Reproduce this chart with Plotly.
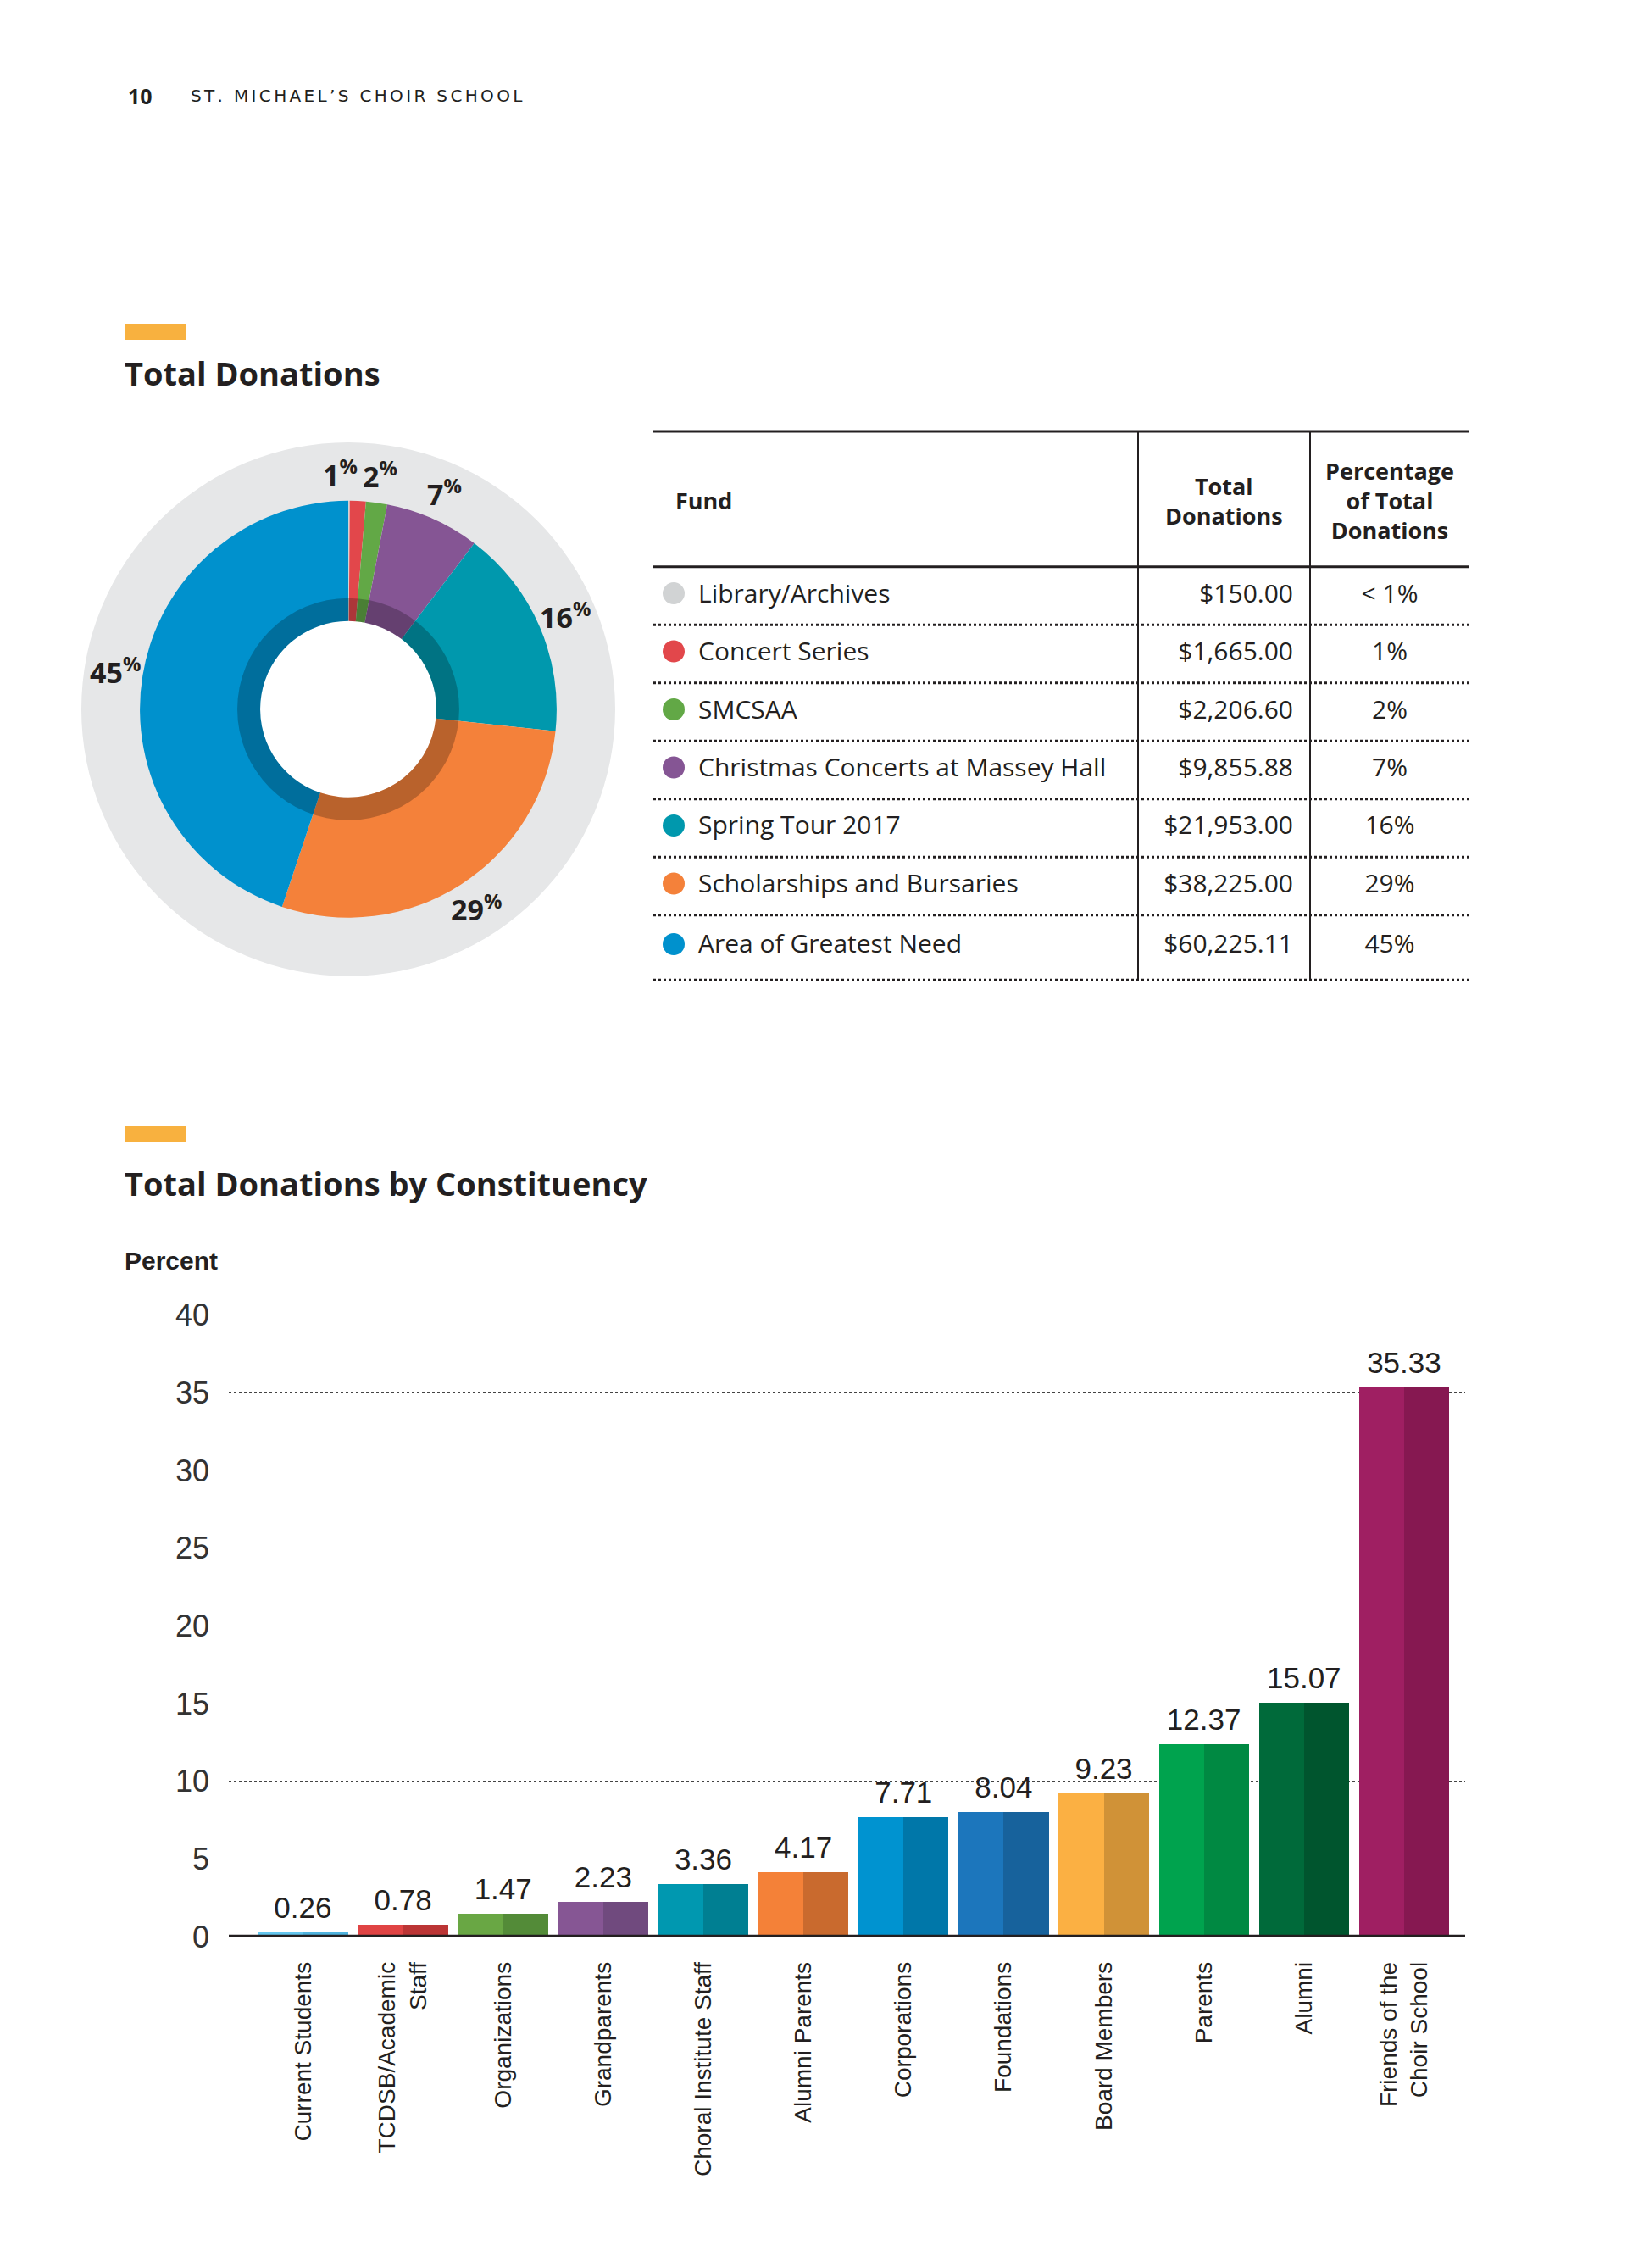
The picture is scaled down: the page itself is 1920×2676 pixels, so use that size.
import math
import plotly.graph_objects as go

# page is photographed at 1920x2676; the html body adds an 8px margin and the
# capture compresses the page slightly in height, so vertical positions are
# pre-scaled by SY.
PAGE_W, PAGE_H = 1920, 2676
OFF = 8
SY = 1 / 0.9917
W, H = PAGE_W - 2 * OFF, PAGE_H - 2 * OFF

# ---------------- data ----------------
funds = ["Library/Archives", "Concert Series", "SMCSAA",
         "Christmas Concerts at Massey Hall", "Spring Tour 2017",
         "Scholarships and Bursaries", "Area of Greatest Need"]
fund_amounts = [150.00, 1665.00, 2206.60, 9855.88, 21953.00, 38225.00, 60225.11]
fund_amount_labels = ["$150.00", "$1,665.00", "$2,206.60", "$9,855.88",
                      "$21,953.00", "$38,225.00", "$60,225.11"]
fund_pct_labels = ["< 1%", "1%", "2%", "7%", "16%", "29%", "45%"]
fund_colors = ["#d1d3d4", "#e2474b", "#62a846", "#855594",
               "#0098ad", "#f4813a", "#0091cd"]

constituencies = ["Current Students", "TCDSB/Academic Staff", "Organizations",
                  "Grandparents", "Choral Institute Staff", "Alumni Parents",
                  "Corporations", "Foundations", "Board Members", "Parents",
                  "Alumni", "Friends of the Choir School"]
constituency_ticks = ["Current Students", "TCDSB/Academic<br>Staff", "Organizations",
                      "Grandparents", "Choral Institute Staff", "Alumni Parents",
                      "Corporations", "Foundations", "Board Members", "Parents",
                      "Alumni", "Friends of the<br>Choir School"]
constituency_pct = [0.26, 0.78, 1.47, 2.23, 3.36, 4.17, 7.71, 8.04, 9.23, 12.37, 15.07, 35.33]
bar_light = ["#63c6ee", "#e04444", "#69a744", "#865694", "#0098b0", "#f48138",
             "#0093d0", "#1c76bc", "#fbb043", "#00a34e", "#006a3a", "#9f1f62"]
bar_dark = ["#4fb3de", "#bb3535", "#538b38", "#704a7e", "#007f92", "#c96a2e",
            "#0077a9", "#17629c", "#d09237", "#008942", "#00552e", "#861851"]
y_ticks = [0, 5, 10, 15, 20, 25, 30, 35, 40]

# ---------------- helpers (page pixel -> paper fraction) ----------------
def px(x):
    return (x - OFF) / W

def py(y):
    return 1 - (y * SY - OFF) / H

def dom(cx, cy, r):
    return dict(x=[px(cx - r), px(cx + r)], y=[py(cy + r), py(cy - r)])

INK = "#231f20"
SANS = "Open Sans"
ARIAL = "Liberation Sans"

fig = go.Figure()

# ---------------- donut ----------------
CX, CY = 411, 835
R_BG, R_OUT, R_DARK, R_HOLE = 315, 246, 131, 104

fig.add_trace(go.Pie(values=[1], labels=["bg"], marker=dict(colors=["#e6e7e8"]),
                     hole=(R_OUT - 4) / R_BG,
                     domain=dom(CX, CY, R_BG), textinfo="none", hoverinfo="skip",
                     sort=False, showlegend=False))
fig.add_trace(go.Pie(values=fund_amounts, labels=funds, marker=dict(colors=fund_colors),
                     hole=R_HOLE / R_OUT, domain=dom(CX, CY, R_OUT), sort=False,
                     direction="clockwise", rotation=0, textinfo="none",
                     showlegend=False))
fig.add_trace(go.Pie(values=[1], labels=["ring"], marker=dict(colors=["rgba(0,0,0,0.24)"]),
                     hole=R_HOLE / R_DARK, domain=dom(CX, CY, R_DARK), textinfo="none",
                     hoverinfo="skip", sort=False, showlegend=False))

total = sum(fund_amounts)
cum = 0.0
annotations = []
R_LAB = 279
for i, (v, lab) in enumerate(zip(fund_amounts, fund_pct_labels)):
    mid = (cum + v / 2) / total
    cum += v
    if i == 0:
        continue
    ang = 2 * math.pi * mid
    lx = CX + R_LAB * math.sin(ang)
    ly = CY - R_LAB * math.cos(ang)
    anchor = "right" if i == 1 else "center"
    annotations.append(dict(
        x=px(lx), y=py(ly), xref="paper", yref="paper", showarrow=False,
        text=lab.replace("%", "<sup>%</sup>"), xanchor=anchor, yanchor="middle",
        font=dict(family=SANS, size=34, color=INK, weight="bold")))

# ---------------- table ----------------
TX0, TX1, TY0, TY1 = 771, 1734, 505, 1160
HEAD_B = 162
ROW_H = 68.5
row_y = [HEAD_B + ROW_H * (i + 0.5) for i in range(len(funds))]
row_y[-1] += 3

fig.add_trace(go.Scatter(x=[24] * len(funds), y=[y - 3 for y in row_y], mode="markers",
                         marker=dict(size=26, color=fund_colors), xaxis="x2", yaxis="y2",
                         hoverinfo="skip", showlegend=False))
fig.add_trace(go.Scatter(x=[53] * len(funds), y=row_y, mode="text", text=funds,
                         textposition="middle right",
                         textfont=dict(family=SANS, size=30, color=INK),
                         xaxis="x2", yaxis="y2", hoverinfo="skip", showlegend=False))
fig.add_trace(go.Scatter(x=[755] * len(funds), y=row_y, mode="text", text=fund_amount_labels,
                         textposition="middle left",
                         textfont=dict(family=SANS, size=30, color=INK),
                         xaxis="x2", yaxis="y2", hoverinfo="skip", showlegend=False))
fig.add_trace(go.Scatter(x=[869] * len(funds), y=row_y, mode="text", text=fund_pct_labels,
                         textposition="middle center",
                         textfont=dict(family=SANS, size=30, color=INK),
                         xaxis="x2", yaxis="y2", hoverinfo="skip", showlegend=False))

head_font = dict(family=SANS, size=27, color=INK, weight="bold")
annotations += [
    dict(x=24, y=84, xref="x2", yref="y2", text="Fund", showarrow=False,
         xanchor="left", yanchor="middle", font=head_font),
    dict(x=673, y=84, xref="x2", yref="y2", text="Total<br>Donations", showarrow=False,
         xanchor="center", yanchor="middle", align="center", font=head_font),
    dict(x=869, y=84, xref="x2", yref="y2", text="Percentage<br>of Total<br>Donations",
         showarrow=False, xanchor="center", yanchor="middle", align="center", font=head_font),
]

TABLE_BOTTOM = HEAD_B + ROW_H * len(funds) + 8
shapes = []
shapes.append(dict(type="line", xref="x2", yref="y2", x0=0, x1=963, y0=2, y1=2,
                   line=dict(color=INK, width=3)))
shapes.append(dict(type="line", xref="x2", yref="y2", x0=0, x1=963, y0=HEAD_B, y1=HEAD_B,
                   line=dict(color=INK, width=3)))
for i in range(len(funds)):
    yy = HEAD_B + ROW_H * (i + 1) if i < len(funds) - 1 else TABLE_BOTTOM
    shapes.append(dict(type="line", xref="x2", yref="y2", x0=0, x1=963, y0=yy, y1=yy,
                       line=dict(color=INK, width=3, dash="dot")))
for xx in (572, 775):
    shapes.append(dict(type="line", xref="x2", yref="y2", x0=xx, x1=xx, y0=2,
                       y1=TABLE_BOTTOM, line=dict(color=INK, width=2)))

# ---------------- bars ----------------
fig.add_trace(go.Bar(x=constituencies, y=constituency_pct, width=[0.45] * 12,
                     offset=[-0.45] * 12, marker=dict(color=bar_light, line=dict(width=0)),
                     hoverinfo="x+y", showlegend=False))
fig.add_trace(go.Bar(x=constituencies, y=constituency_pct, width=[0.45] * 12,
                     offset=[0.0] * 12, marker=dict(color=bar_dark, line=dict(width=0)),
                     hoverinfo="x+y", showlegend=False))
fig.add_trace(go.Scatter(x=constituencies, y=constituency_pct, mode="markers+text",
                         marker=dict(size=12, color="rgba(0,0,0,0)"),
                         text=[f"{v:.2f}" for v in constituency_pct],
                         textposition="top center", cliponaxis=False,
                         textfont=dict(family=ARIAL, size=35, color=INK),
                         hoverinfo="skip", showlegend=False))

# baseline
shapes.append(dict(type="line", xref="paper", yref="y", x0=px(270), x1=px(1729), y0=0, y1=0,
                   line=dict(color=INK, width=5), layer="above"))

# orange accents
for top in (380, 1327):
    shapes.append(dict(type="rect", xref="paper", yref="paper", x0=px(147), x1=px(220),
                       y0=py(top + 19), y1=py(top), fillcolor="#f8b13f",
                       line=dict(width=0)))

# titles / header
spaced = "\u2006".join("ST. MICHAEL’S CHOIR SCHOOL")
annotations += [
    dict(x=px(149), y=py(111), xref="paper", yref="paper", text="10", showarrow=False,
         xanchor="left", yanchor="middle",
         font=dict(family=SANS, size=25, color=INK, weight="bold")),
    dict(x=px(223), y=py(111), xref="paper", yref="paper", text=spaced,
         showarrow=False, xanchor="left", yanchor="middle",
         font=dict(family="DejaVu Sans", size=20, color=INK)),
    dict(x=px(145), y=py(438), xref="paper", yref="paper", text="Total Donations",
         showarrow=False, xanchor="left", yanchor="middle",
         font=dict(family=SANS, size=38, color=INK, weight="bold")),
    dict(x=px(145), y=py(1394), xref="paper", yref="paper",
         text="Total Donations by Constituency", showarrow=False, xanchor="left",
         yanchor="middle", font=dict(family=SANS, size=38, color=INK, weight="bold")),
    dict(x=px(145), y=py(1486), xref="paper", yref="paper", text="Percent",
         showarrow=False, xanchor="left", yanchor="middle",
         font=dict(family=ARIAL, size=30, color=INK, weight="bold")),
]

Y0_PX = 2284
PX_PER = 734 / 40
YMAX = 41

fig.update_layout(
    width=W, height=H, margin=dict(l=0, r=0, t=0, b=0),
    paper_bgcolor="white", plot_bgcolor="white", showlegend=False,
    barmode="overlay", bargap=0,
    xaxis=dict(domain=[px(270), px(1729)], anchor="y", type="category",
               categoryorder="array", categoryarray=constituencies,
               range=[-0.74, 11.61], tickmode="array", tickvals=constituencies,
               ticktext=constituency_ticks, tickangle=-90, showgrid=False,
               showline=False, zeroline=False, ticks="", ticklabelstandoff=23,
               tickfont=dict(family=ARIAL, size=28, color=INK)),
    yaxis=dict(domain=[py(Y0_PX), py(Y0_PX - YMAX * PX_PER)], anchor="x",
               range=[0, YMAX], tickmode="array", tickvals=y_ticks,
               showgrid=True, gridcolor="#444444", gridwidth=1.2, griddash="dot",
               zeroline=False, showline=False, ticks="", ticklabelstandoff=22,
               tickfont=dict(family=ARIAL, size=36, color="#333333")),
    xaxis2=dict(domain=[px(TX0), px(TX1)], anchor="y2", range=[0, TX1 - TX0],
                visible=False, fixedrange=True),
    yaxis2=dict(domain=[py(TY1), py(TY0)], anchor="x2", range=[TY1 - TY0, 0],
                visible=False, fixedrange=True),
    shapes=shapes, annotations=annotations,
)

fig.write_html("out.html")
